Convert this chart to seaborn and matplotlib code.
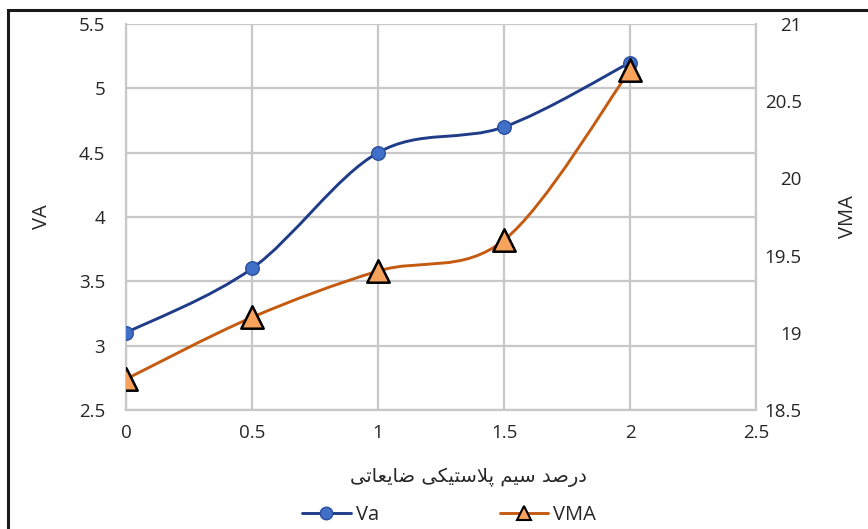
import numpy as np
import matplotlib
matplotlib.use("Agg")
import matplotlib.pyplot as plt
from matplotlib.path import Path
from matplotlib.patches import PathPatch, Rectangle
from matplotlib.lines import Line2D
import seaborn as sns
import pandas as pd

# ---- data ----
x_vals = [0, 0.5, 1, 1.5, 2]
va_vals = [3.1, 3.6, 4.5, 4.7, 5.2]
vma_vals = [18.7, 19.1, 19.4, 19.6, 20.7]
x_ticks = [0, 0.5, 1, 1.5, 2, 2.5]
x_ticklabels = ["0", "0.5", "1", "1.5", "2", "2.5"]
left_ticks = [2.5, 3, 3.5, 4, 4.5, 5, 5.5]
left_ticklabels = ["2.5", "3", "3.5", "4", "4.5", "5", "5.5"]
right_ticks = [18.5, 19, 19.5, 20, 20.5, 21]
right_ticklabels = ["18.5", "19", "19.5", "20", "20.5", "21"]
xlabel_text = "درصد سیم پلاستیکی ضایعاتی"
left_label = "VA"
right_label = "VMA"
series_names = ["Va", "VMA"]

# ---- simple Arabic/Persian shaping (matplotlib has no complex text layout) ----
FORMS = {  # iso, final, initial, medial
    "\u062F": ("\uFEA9", "\uFEAA", None, None),
    "\u0631": ("\uFEAD", "\uFEAE", None, None),
    "\u0627": ("\uFE8D", "\uFE8E", None, None),
    "\u0635": ("\uFEB9", "\uFEBA", "\uFEBB", "\uFEBC"),
    "\u0633": ("\uFEB1", "\uFEB2", "\uFEB3", "\uFEB4"),
    "\u06CC": ("\uFBFC", "\uFBFD", "\uFBFE", "\uFBFF"),
    "\u0645": ("\uFEE1", "\uFEE2", "\uFEE3", "\uFEE4"),
    "\u067E": ("\uFB56", "\uFB57", "\uFB58", "\uFB59"),
    "\u0644": ("\uFEDD", "\uFEDE", "\uFEDF", "\uFEE0"),
    "\u062A": ("\uFE95", "\uFE96", "\uFE97", "\uFE98"),
    "\u06A9": ("\uFB8E", "\uFB8F", "\uFB90", "\uFB91"),
    "\u0636": ("\uFEBD", "\uFEBE", "\uFEBF", "\uFEC0"),
    "\u0639": ("\uFEC9", "\uFECA", "\uFECB", "\uFECC"),
}
LAMALEF = ("\uFEFB", "\uFEFC")


def shape(text):
    chars = []
    i = 0
    while i < len(text):
        if text[i] == "\u0644" and i + 1 < len(text) and text[i + 1] == "\u0627":
            chars.append("LA")
            i += 2
        else:
            chars.append(text[i])
            i += 1

    def joins_left(c):
        if c == "LA":
            return False
        f = FORMS.get(c)
        return f is not None and f[2] is not None

    def joins(c):
        return c == "LA" or c in FORMS

    out = []
    for k, c in enumerate(chars):
        prev = chars[k - 1] if k > 0 else None
        nxt = chars[k + 1] if k + 1 < len(chars) else None
        conn_prev = prev is not None and joins_left(prev) and joins(c)
        conn_next = nxt is not None and joins_left(c) and joins(nxt)
        if c == "LA":
            out.append(LAMALEF[1] if conn_prev else LAMALEF[0])
            continue
        if c not in FORMS:
            out.append(c)
            continue
        iso, fin, ini, med = FORMS[c]
        if conn_prev and conn_next:
            out.append(med)
        elif conn_prev:
            out.append(fin)
        elif conn_next:
            out.append(ini)
        else:
            out.append(iso)
    return "".join(out)[::-1]


def smooth_path(xs, ys):
    pts = np.column_stack([xs, ys]).astype(float)
    n = len(pts)
    verts = [pts[0]]
    codes = [Path.MOVETO]
    for i in range(n - 1):
        p0 = pts[i - 1] if i > 0 else pts[i]
        p1 = pts[i]
        p2 = pts[i + 1]
        p3 = pts[i + 2] if i + 2 < n else pts[i + 1]
        c1 = p1 + (p2 - p0) / 6.0
        c2 = p2 - (p3 - p1) / 6.0
        verts += [c1, c2, p2]
        codes += [Path.CURVE4] * 3
    return Path(verts, codes)


# ---- style ----
sns.set_theme(style="white")
plt.rcParams["font.family"] = ["Open Sans", "DejaVu Sans"]

va_line = "#1F3C88"
va_fill = "#3F6FC6"
va_edge = "#2A4E9E"
vma_line = "#C55A11"
vma_fill = "#F8A35C"
grid_col = "#C8C8C8"
text_col = "#262626"

fig = plt.figure(figsize=(8.68, 5.29), dpi=100)
W, H = 868, 529
ax = fig.add_axes([126 / W, 1 - 410 / H, (756 - 126) / W, (410 - 24) / H])
ax2 = ax.twinx()

df = pd.DataFrame({"x": x_vals, "va": va_vals, "vma": vma_vals})

ax.add_patch(PathPatch(smooth_path(x_vals, va_vals), facecolor="none",
                       edgecolor=va_line, lw=2.1, zorder=3))
ax2.add_patch(PathPatch(smooth_path(x_vals, vma_vals), facecolor="none",
                        edgecolor=vma_line, lw=2.1, zorder=3))

sns.scatterplot(data=df, x="x", y="va", ax=ax, marker="o", s=95,
                color=va_fill, edgecolor=va_edge, linewidth=1.0, zorder=4)
sns.scatterplot(data=df, x="x", y="vma", ax=ax2, marker="^", s=260,
                color=vma_fill, edgecolor="black", linewidth=1.8, zorder=4)

ax.set_xlim(0, 2.5)
ax.set_ylim(2.5, 5.5)
ax2.set_ylim(18.5, 21)

ax.set_xticks(x_ticks)
ax.set_xticklabels(x_ticklabels)
ax.set_yticks(left_ticks)
ax.set_yticklabels(left_ticklabels)
ax2.set_yticks(right_ticks)
ax2.set_yticklabels(right_ticklabels, ha="right")

ax.grid(True, color=grid_col, lw=1.6)
ax.set_axisbelow(True)
for a in (ax, ax2):
    for s in a.spines.values():
        s.set_visible(False)
for s in ("left", "bottom"):
    ax.spines[s].set_visible(True)
    ax.spines[s].set_color(grid_col)
    ax.spines[s].set_linewidth(1.6)
ax2.spines["right"].set_visible(True)
ax2.spines["right"].set_color(grid_col)
ax2.spines["right"].set_linewidth(1.6)

ax.tick_params(axis="y", length=0, pad=15, labelsize=13.5, labelcolor=text_col)
ax.tick_params(axis="x", length=0, pad=10, labelsize=13.5, labelcolor=text_col)
ax2.tick_params(axis="y", length=0, pad=33, labelsize=13.5, labelcolor=text_col)

ax.set_xlabel("")
ax.set_ylabel("")
ax2.set_ylabel("")
fig.text(42 / W, 1 - 217 / H, left_label, rotation=90, ha="center", va="center",
         fontsize=14.5, color=text_col)
fig.text(848 / W, 1 - 217 / H, right_label, rotation=90, ha="center", va="center",
         fontsize=14.5, color=text_col)
fig.text(468 / W, 1 - 477 / H, shape(xlabel_text), ha="center", va="center",
         fontsize=14, color=text_col, family=["DejaVu Sans"])

handles = [
    Line2D([], [], color=va_line, lw=2.1, marker="o", markersize=9,
           markerfacecolor=va_fill, markeredgecolor=va_edge),
    Line2D([], [], color=vma_line, lw=2.1, marker="^", markersize=10,
           markerfacecolor=vma_fill, markeredgecolor="black", markeredgewidth=1.5),
]
fig.legend(handles, series_names, loc="center", bbox_to_anchor=(449 / W, 1 - 515 / H),
           ncol=2, frameon=False, fontsize=14.5, handlelength=2.4, columnspacing=6.0,
           handletextpad=0.25, labelcolor=text_col)

fig.patches.append(Rectangle((8 / W, -0.1), 1.0, 1 - 10 / H + 0.1,
                             transform=fig.transFigure, fill=False,
                             edgecolor="#1a1a1a", lw=2.2, zorder=10))

fig.savefig("out.png", dpi=100)
